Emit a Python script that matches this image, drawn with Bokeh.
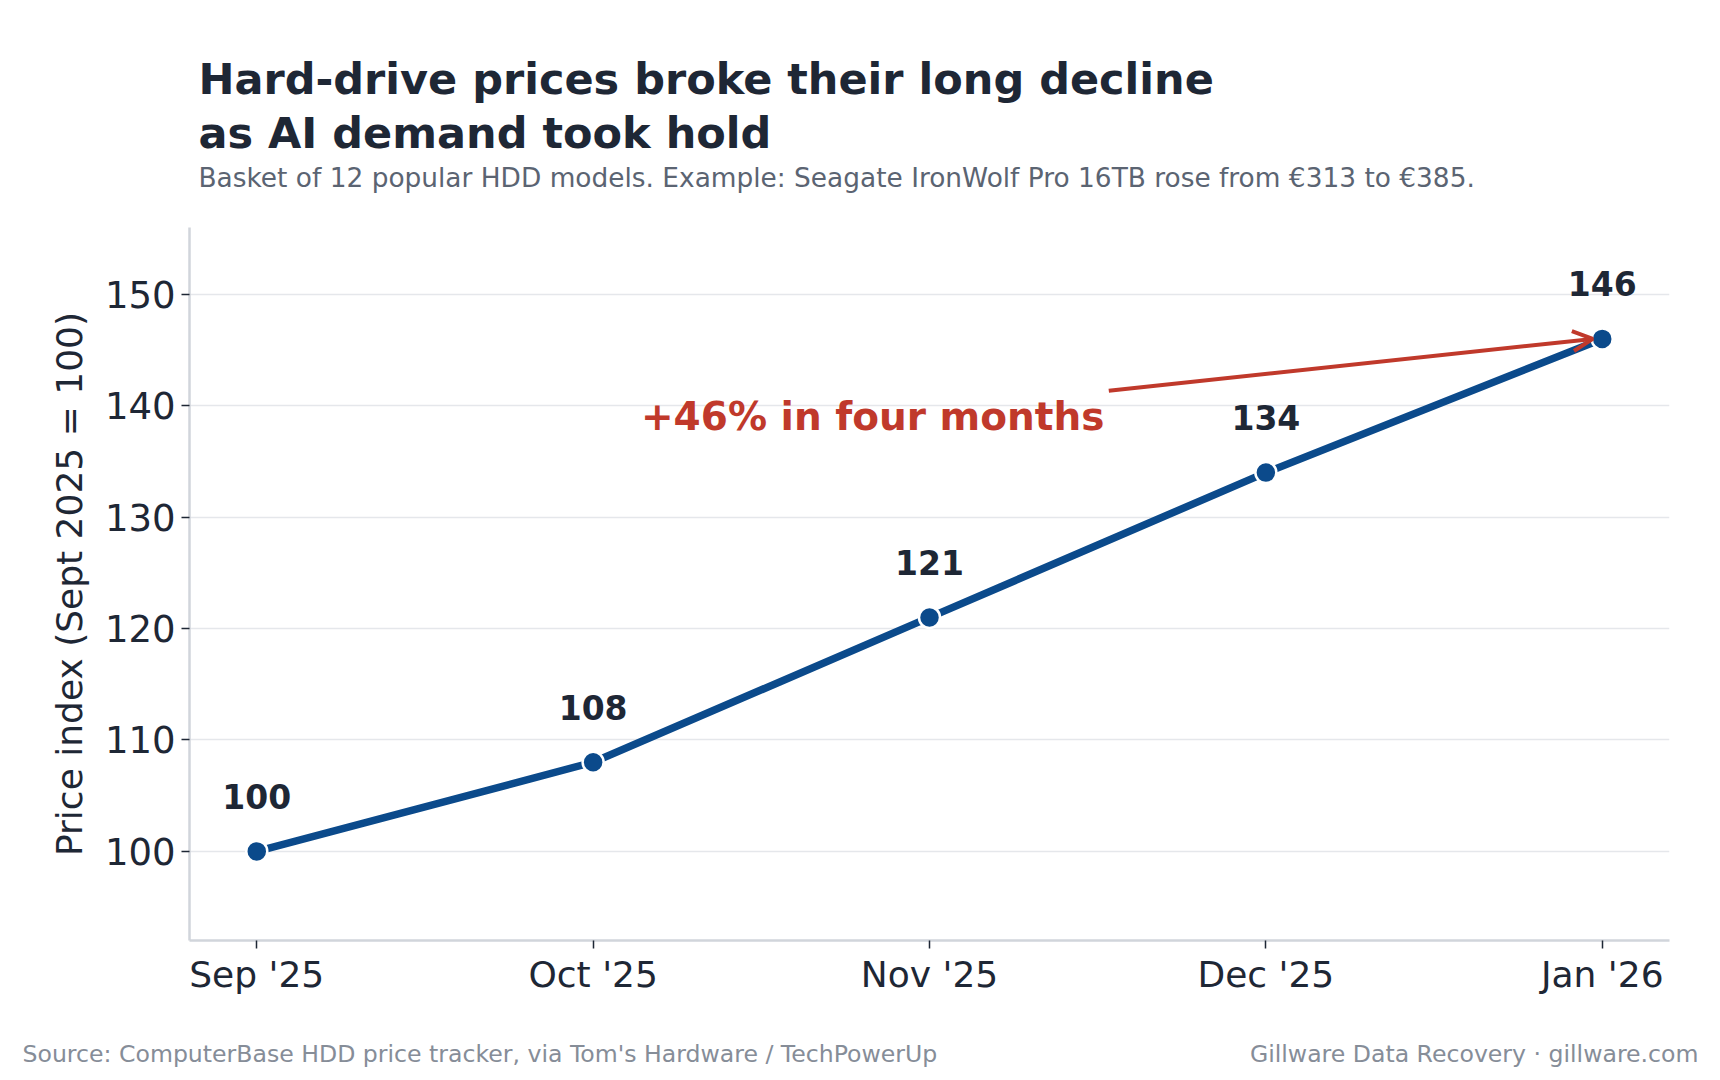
from bokeh.plotting import figure
from bokeh.models import (ColumnDataSource, FixedTicker, Label, Arrow, OpenHead, Range1d)
from bokeh.layouts import column
from bokeh.embed import file_html
from bokeh.resources import INLINE
from bokeh.core.properties import value

# ---- data ----
months = ["Sep '25", "Oct '25", "Nov '25", "Dec '25", "Jan '26"]
price_index = [100, 108, 121, 134, 146]
y_ticks = [100, 110, 120, 130, 140, 150]

title_line1 = "Hard-drive prices broke their long decline"
title_line2 = "as AI demand took hold"
subtitle = "Basket of 12 popular HDD models. Example: Seagate IronWolf Pro 16TB rose from \u20ac313 to \u20ac385."
source_text = "Source: ComputerBase HDD price tracker, via Tom's Hardware / TechPowerUp"
credit_text = "Gillware Data Recovery \u00b7 gillware.com"
annotation_text = "+46% in four months"
y_label = "Price index (Sept 2025 = 100)"

FONT = "DejaVu Sans"
DARK = "#1e2735"
BLUE = "#0b4a8b"
RED = "#c0392b"
SUB = "#5b6472"
FOOT = "#868d98"

W = 1720
HEAD_H, MAIN_H, FOOT_H = 200, 810, 70


def blank(height):
    f = figure(width=W, height=height, output_backend="svg", toolbar_location=None,
               x_range=Range1d(0, W), y_range=Range1d(height, 0),
               min_border=0, min_border_left=0, min_border_right=0,
               min_border_top=0, min_border_bottom=0, frame_align=False)
    f.axis.visible = False
    f.grid.visible = False
    f.outline_line_color = None
    f.background_fill_color = "white"
    f.border_fill_color = "white"
    return f


# ---- header ----
head = blank(HEAD_H)
head.text(x=[198, 198], y=[78, 132], text=[title_line1, title_line2],
          text_font=value(FONT), text_font_style="bold", text_font_size="43px",
          text_color=DARK, text_align="left", text_baseline="alphabetic")
head.text(x=[198], y=[177], text=[subtitle], text_font=value(FONT),
          text_font_size="26.4px", text_color=SUB, text_align="left",
          text_baseline="alphabetic")

# ---- main chart ----
xs = list(range(len(months)))
src = ColumnDataSource(dict(x=xs, y=price_index, lbl=[str(v) for v in price_index]))

p = figure(width=W, height=MAIN_H, output_backend="svg", toolbar_location=None,
           x_range=(-0.2, len(months) - 0.8), y_range=(92, 156),
           min_border_left=189, min_border_right=51, min_border_top=27, min_border_bottom=70,
           background_fill_color="white", border_fill_color="white", frame_align=False)
p.outline_line_color = None
p.xgrid.grid_line_color = None
p.ygrid.grid_line_color = "#e5e7eb"
p.ygrid.grid_line_width = 1.5

p.xaxis.ticker = FixedTicker(ticks=xs)
p.xaxis.major_label_overrides = {i: m for i, m in enumerate(months)}
p.yaxis.ticker = FixedTicker(ticks=y_ticks)
p.xaxis.minor_tick_line_color = None
p.yaxis.minor_tick_line_color = None

for ax in (p.xaxis[0], p.yaxis[0]):
    ax.axis_line_color = "#d1d5db"
    ax.axis_line_width = 2.5
    ax.major_tick_line_color = DARK
    ax.major_tick_line_width = 1.5
    ax.major_tick_out = 8
    ax.major_tick_in = 0
    ax.major_label_text_font = FONT
    ax.major_label_text_font_size = "36px"
    ax.major_label_text_color = DARK
p.yaxis.major_label_text_font_size = "37px"
p.xaxis.major_label_standoff = 5
p.yaxis.major_label_standoff = 6
p.yaxis.axis_label = y_label
p.yaxis.axis_label_text_font = FONT
p.yaxis.axis_label_text_font_size = "36px"
p.yaxis.axis_label_text_font_style = "normal"
p.yaxis.axis_label_text_color = DARK
p.yaxis.axis_label_standoff = 12

# line + markers
p.line("x", "y", source=src, line_color=BLUE, line_width=7.5)
p.scatter("x", "y", source=src, size=21, fill_color=BLUE, line_color="white", line_width=2.5)

# value labels
p.text("x", "y", text="lbl", source=src, text_font=value(FONT), text_font_style="bold",
       text_font_size="33px", text_color=DARK, text_align="center",
       text_baseline="alphabetic", y_offset=-55)

# annotation + arrow
p.add_layout(Arrow(end=OpenHead(line_color=RED, line_width=4, size=20),
                   x_start=2.533, y_start=141.34, x_end=3.972, y_end=146.0,
                   line_color=RED, line_width=4))
p.add_layout(Label(x=2.52, y=139.0, text=annotation_text, text_font=FONT,
                   text_font_style="bold", text_font_size="39px", text_color=RED,
                   text_align="right", text_baseline="alphabetic"))

# ---- footer ----
foot = blank(FOOT_H)
foot.text(x=[22], y=[43], text=[source_text], text_font=value(FONT),
          text_font_size="23.6px", text_color=FOOT, text_align="left",
          text_baseline="alphabetic")
foot.text(x=[1698], y=[43], text=[credit_text], text_font=value(FONT),
          text_font_size="23.6px", text_color=FOOT, text_align="right",
          text_baseline="alphabetic")

layout = column(head, p, foot, spacing=0)
open("out.html", "w").write(file_html(layout, INLINE))
